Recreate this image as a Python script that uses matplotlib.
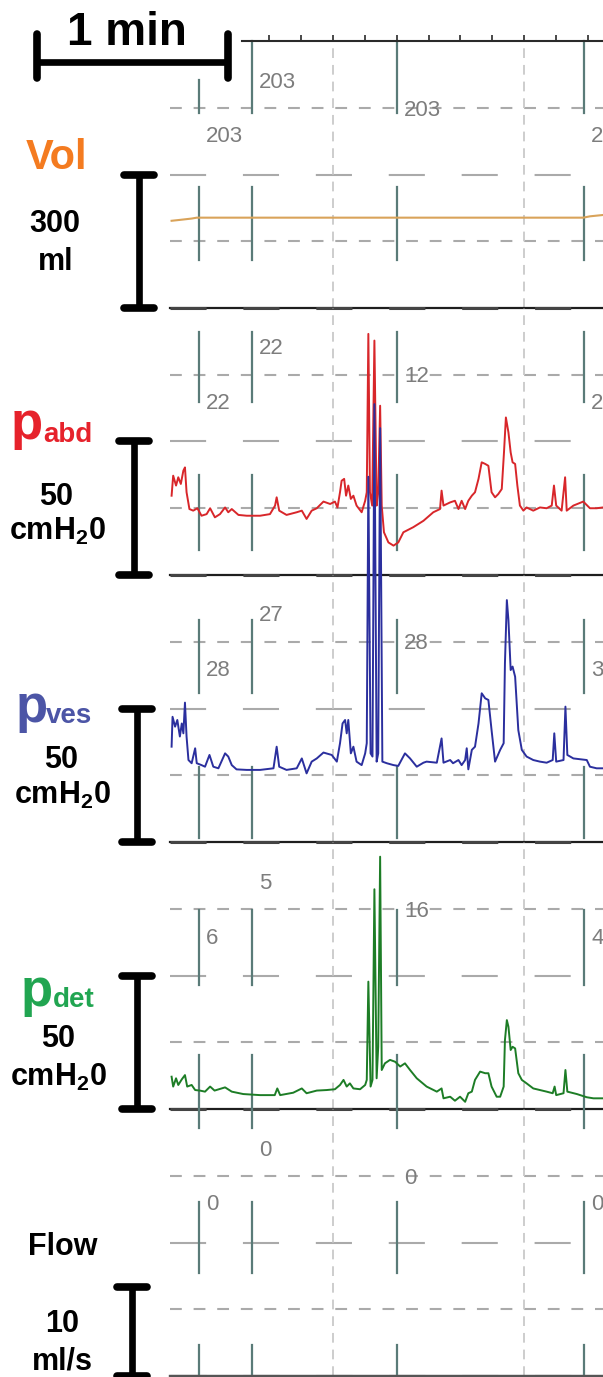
import numpy as np
import matplotlib.pyplot as plt
import matplotlib.transforms as mtransforms

plt.rcParams['font.family'] = ['Liberation Sans', 'DejaVu Sans']
plt.rcParams['lines.scale_dashes'] = False
plt.rcParams['mathtext.fontset'] = 'custom'
plt.rcParams['mathtext.rm'] = 'Liberation Sans:bold'

# ---- data (time in s from left edge of the trace area) ----
vol_t = [0.5, 3.1, 6.8, 8.4, 129.8, 131.9, 136.0]
vol_ml = [196, 198, 201, 203, 203, 206, 209]

pabd_t = [0.5, 1.0, 1.9, 2.6, 3.4, 4.2, 4.7, 5.2, 6.1, 7.3, 8.6, 9.9, 11.5, 12.6, 14.1, 15.7,
          17.3, 18.3, 19.4, 21.5, 24.1, 28.3, 31.4, 33.0, 33.5, 34.3, 36.6, 39.8, 41.4, 42.9,
          44.5, 46.1, 48.2, 50.3, 51.8, 52.6, 53.4, 53.9, 54.7, 55.3, 56.0, 56.8, 57.6, 58.6,
          60.2, 61.3, 61.8, 62.3, 62.8, 63.5, 64.2, 64.9, 65.4, 66.0, 66.5, 67.2, 68.6, 70.2,
          71.7, 73.3, 76.4, 79.6, 82.7, 84.8, 85.3, 85.9, 88.0, 89.5, 90.6, 91.6, 92.7, 93.7,
          94.8, 95.8, 96.9, 97.9, 99.0, 100.0, 101.0, 102.1, 103.1, 104.2, 104.9, 105.5, 106.3,
          107.0, 107.6, 108.4, 109.1, 109.9, 111.0, 112.0, 114.1, 116.2, 118.3, 119.9, 120.6,
          121.3, 123.0, 124.1, 124.6, 126.7, 129.8, 131.9, 134.0, 136.0]
pabd = [29.7, 37.2, 33.5, 36.6, 34.1, 39.1, 40.3, 31.0, 24.7, 24.1, 25.0, 22.2, 22.8, 25.0, 21.6,
        22.8, 25.3, 23.5, 24.7, 22.5, 22.2, 22.2, 22.8, 26.0, 29.1, 24.1, 22.5, 23.5, 24.1, 21.0,
        24.1, 25.0, 27.5, 26.6, 27.5, 25.3, 31.0, 35.3, 36.0, 29.7, 33.5, 28.5, 29.7, 26.0, 23.5,
        27.8, 31.0, 90.3, 31.0, 26.0, 87.8, 26.0, 31.0, 63.4, 26.0, 16.0, 12.2, 11.0, 12.2, 16.0,
        17.9, 20.3, 23.5, 24.7, 31.6, 26.0, 27.2, 27.8, 24.7, 27.8, 24.7, 27.8, 29.7, 31.0, 36.0,
        42.2, 41.6, 40.9, 31.0, 29.1, 30.3, 32.2, 45.9, 59.0, 53.4, 45.9, 42.2, 41.6, 33.5, 26.0,
        24.1, 25.3, 24.1, 25.3, 25.0, 26.0, 33.5, 26.0, 24.1, 36.6, 24.1, 26.0, 27.5, 25.0, 25.0,
        25.3]

pves_t = [0.5, 0.8, 1.6, 2.3, 3.1, 3.7, 4.2, 4.7, 5.2, 5.8, 6.8, 7.9, 8.4, 9.9, 11.0, 12.4, 13.6,
          15.2, 17.3, 18.3, 19.4, 20.9, 24.1, 28.3, 32.5, 33.5, 34.3, 36.6, 39.8, 41.4, 42.9,
          44.5, 46.1, 48.2, 50.8, 52.4, 53.4, 54.2, 55.0, 55.5, 56.0, 56.8, 57.6, 58.6, 60.2,
          61.3, 61.8, 62.3, 63.0, 63.6, 64.2, 64.9, 65.4, 66.0, 66.7, 68.1, 70.2, 71.7, 73.8,
          75.4, 77.5, 79.6, 80.6, 83.8, 85.3, 85.9, 88.0, 88.9, 90.6, 91.6, 92.7, 93.2, 93.7,
          94.8, 95.8, 96.9, 97.9, 99.0, 100.0, 101.0, 102.1, 103.7, 104.8, 105.2, 105.8, 106.3,
          107.0, 107.6, 108.4, 109.4, 110.5, 112.0, 114.1, 116.2, 118.3, 120.2, 120.7, 121.3,
          123.6, 124.2, 124.8, 126.7, 130.9, 131.9, 134.0, 136.0]
pves = [35.7, 46.9, 43.2, 45.7, 39.5, 44.4, 40.7, 52.2, 39.5, 30.7, 29.5, 35.1, 29.5, 28.8, 28.2,
        32.6, 28.2, 27.6, 33.2, 32.0, 28.8, 27.2, 27.0, 27.0, 27.6, 35.7, 28.2, 27.0, 27.6, 31.3,
        25.7, 30.1, 31.3, 33.5, 32.6, 30.1, 37.0, 44.4, 45.7, 40.7, 45.7, 33.2, 35.7, 30.1, 28.8,
        33.2, 37.0, 136.8, 33.2, 32.0, 164.0, 30.1, 33.2, 155.0, 30.1, 29.5, 28.8, 28.5, 33.2,
        31.3, 28.2, 29.7, 30.1, 29.7, 38.8, 29.7, 30.7, 29.5, 30.7, 28.8, 30.7, 35.1, 27.2, 34.5,
        35.7, 44.4, 55.7, 53.8, 53.2, 41.9, 30.1, 34.5, 37.0, 66.9, 90.6, 83.1, 64.4, 65.7, 61.9,
        41.9, 34.5, 32.0, 30.7, 30.1, 29.7, 30.7, 40.7, 30.1, 30.7, 50.7, 32.6, 31.3, 30.7, 28.2,
        27.6, 27.6]

pdet_t = [0.5, 1.0, 1.9, 2.6, 3.7, 4.7, 5.4, 6.8, 7.9, 9.4, 11.0, 12.6, 14.0, 17.3, 19.4, 23.0,
          28.3, 32.9, 33.7, 34.6, 38.7, 41.4, 42.9, 46.1, 49.2, 51.8, 53.4, 54.5, 55.5, 56.5,
          57.6, 59.7, 61.3, 61.8, 62.3, 63.0, 63.6, 64.2, 64.9, 65.4, 66.0, 66.5, 67.5, 69.1,
          70.7, 72.3, 73.8, 75.4, 77.5, 80.6, 83.8, 85.3, 85.9, 88.0, 89.5, 91.1, 92.7, 93.7,
          94.8, 95.8, 97.4, 99.0, 100.0, 101.0, 102.6, 103.7, 104.8, 105.2, 105.8, 106.3, 107.0,
          107.6, 108.4, 109.4, 110.5, 112.0, 114.1, 116.2, 118.3, 120.2, 120.8, 121.3, 123.6,
          124.2, 124.8, 127.8, 130.9, 133.0, 136.0]
pdet = [12.1, 8.4, 11.5, 9.0, 11.1, 12.7, 8.4, 9.0, 7.1, 6.9, 6.5, 8.4, 6.9, 8.1, 6.5, 5.6, 5.2,
        5.2, 7.7, 5.2, 6.1, 7.7, 5.9, 6.9, 7.1, 7.4, 9.0, 10.9, 8.4, 9.6, 7.7, 7.4, 9.0, 10.9,
        47.7, 8.4, 10.9, 82.3, 11.5, 23.3, 94.5, 14.6, 17.1, 18.4, 17.7, 15.9, 17.1, 14.6, 11.5,
        8.4, 6.5, 7.7, 4.0, 4.6, 3.1, 4.6, 2.7, 5.9, 6.5, 10.9, 14.0, 13.4, 13.4, 8.4, 4.6, 4.6,
        8.4, 25.8, 33.3, 30.8, 22.1, 23.3, 22.7, 13.4, 10.9, 9.6, 7.7, 7.1, 6.5, 5.9, 8.4, 5.2,
        5.9, 14.6, 6.5, 5.6, 4.4, 4.0, 4.0]

flow_t = [0.0, 136.0]
flow = [0.0, 0.0]

# event markers and the values printed next to them
# (the last column is cut by the right edge in the original, only its first digit shows)
marker_t = [9.1, 25.8, 71.3, 130.1]
vol_labels = ['203', '203', '203', '2']
pabd_labels = ['22', '22', '12', '2']
pves_labels = ['28', '27', '28', '3']
pdet_labels = ['6', '5', '16', '4']
flow_labels = ['0', '0', '0', '0']

minute_lines = [51.2, 111.2]

# ---- figure ----
W, H = 603, 1377
PH = 267  # panel height in px
fig = plt.figure(figsize=(W / 100, H / 100), dpi=100)

GRID = '#aaaaaa'
MARK = '#5a7b78'


def panel(top, ymax, seg_px, first_seg=None, base='#1e1e1e'):
    ax = fig.add_axes([170 / W, 1 - (top + PH) / H, 433 / W, PH / H])
    ax.set_xlim(0, 136.0)
    ax.set_ylim(0, ymax)
    ax.axis('off')
    ax.patch.set_visible(False)
    # horizontal reference lines
    for f in (0.25, 0.75):
        ax.axhline(f * ymax, color=GRID, lw=1.5, dashes=(8.5, 8.5), zorder=1)
    ax.axhline(0.5 * ymax, color=GRID, lw=1.5, dashes=(26, 26.5), zorder=1)
    # bottom line
    ax.axhline(0, color=base, lw=1.6, clip_on=False, zorder=2)
    ax.axhline(0, color='#444444', lw=2.2, dashes=(26, 26.5), clip_on=False, zorder=2)
    # minute lines
    for m in minute_lines:
        ax.axvline(m, color='#c9c9c9', lw=1.3, dashes=(7, 5), zorder=1)
    # event markers
    tr = ax.get_xaxis_transform()
    for i, t in enumerate(marker_t):
        segs = seg_px if (first_seg is None or i > 0) else first_seg
        for a, b in segs:
            ax.plot([t, t], [1 - a / PH, 1 - b / PH], color=MARK, lw=1.6,
                    transform=tr, clip_on=False, zorder=2)
    return ax


def marker_labels(ax, labels):
    tr = ax.get_xaxis_transform()
    for t, s, off in zip(marker_t, labels, [96, 41, 69, 96]):
        ax.annotate(s, (t, 1 - off / PH), xycoords=tr, xytext=(5, 0),
                    textcoords='offset points', ha='left', va='center',
                    fontsize=16, color='#7d7d7d', annotation_clip=False, zorder=2)


def scale_bar(ax, xpx, val):
    tr = mtransforms.blended_transform_factory(fig.transFigure, ax.transData)
    x = xpx / W
    hw = 15 / W
    ax.plot([x, x], [0, val], transform=tr, color='k', lw=4.8, clip_on=False,
            solid_capstyle='butt')
    for v in (0, val):
        ax.plot([x - hw, x + hw], [v, v], transform=tr, color='k', lw=5.5,
                clip_on=False, solid_capstyle='round')


def ftxt(x, y, s, **kw):
    kw.setdefault('weight', 'bold')
    kw.setdefault('va', 'baseline')
    fig.text(x / W, 1 - y / H, s, **kw)


# Vol panel
ax_vol = panel(41, 600, [(0, 72), (146, 219)], first_seg=[(39, 72), (146, 219)])
ax_vol.plot(vol_t, vol_ml, color='#d9a35a', lw=1.5, zorder=3)
marker_labels(ax_vol, vol_labels)
xt = ax_vol.get_xaxis_transform()
ax_vol.plot([22.6, 136.0], [1, 1], color='#2a2a2a', lw=1.5, transform=xt, clip_on=False)
ax_vol.vlines(np.arange(31.2, 136.0, 10), 1, 1 + 6 / PH, color='#2a2a2a', lw=1.2,
              transform=xt, clip_on=False)
scale_bar(ax_vol, 139, 300)
# 1 min bar
tb = mtransforms.blended_transform_factory(ax_vol.transData, fig.transFigure)
ax_vol.plot([-41.8, 18.2], [1 - 62 / H, 1 - 62 / H], transform=tb, color='k', lw=4.8,
            clip_on=False, solid_capstyle='butt')
for t in (-41.8, 18.2):
    ax_vol.plot([t, t], [1 - 34 / H, 1 - 78 / H], transform=tb, color='k', lw=5.5,
                clip_on=False, solid_capstyle='round')

# p abd
ax_abd = panel(308, 100, [(24, 94), (167, 242)])
ax_abd.plot(pabd_t, pabd, color='#d8262a', lw=1.4, zorder=3)
marker_labels(ax_abd, pabd_labels)
scale_bar(ax_abd, 134, 50)

# p ves (drawn unclipped so the spikes run up into the p abd panel)
ax_ves = panel(575, 100, [(45, 118), (192, 263)])
ax_ves.plot(pves_t, pves, color='#2b2f9e', lw=1.4, zorder=3, clip_on=False)
marker_labels(ax_ves, pves_labels)
scale_bar(ax_ves, 137, 50)

# p det
ax_det = panel(842, 100, [(68, 143), (213, 286)])
ax_det.plot(pdet_t, pdet, color='#1d7d26', lw=1.4, zorder=3)
marker_labels(ax_det, pdet_labels)
scale_bar(ax_det, 137, 50)

# Flow
ax_flow = panel(1109, 30, [(93, 164), (236, 270)], base='#555555')
ax_flow.plot(flow_t, flow, color='#555555', lw=1.6, zorder=3, clip_on=False)
marker_labels(ax_flow, flow_labels)
scale_bar(ax_flow, 132, 10)

# ---- left-hand labels ----
ftxt(127, 45, '1 min', ha='center', fontsize=33)
ftxt(57, 169, 'Vol', ha='center', fontsize=30, color='#f47b20')
ftxt(55, 232, '300', ha='center', fontsize=22)
ftxt(56, 270, 'ml', ha='center', fontsize=22)

ftxt(11, 439, 'p', ha='left', fontsize=38, color='#e6222b')
ftxt(43, 442, 'abd', ha='left', fontsize=20, color='#e6222b')
ftxt(56, 505, '50', ha='center', fontsize=22)
ftxt(57, 540, r'$\mathrm{cmH_20}$', ha='center', fontsize=22)

ftxt(16, 722, 'p', ha='left', fontsize=38, color='#4c55a6')
ftxt(46, 723, 'ves', ha='left', fontsize=20, color='#4c55a6')
ftxt(61, 768, '50', ha='center', fontsize=22)
ftxt(62, 804, r'$\mathrm{cmH_20}$', ha='center', fontsize=22)

ftxt(21, 1006, 'p', ha='left', fontsize=38, color='#21a551')
ftxt(53, 1007, 'det', ha='left', fontsize=20, color='#21a551')
ftxt(58, 1047, '50', ha='center', fontsize=22)
ftxt(58, 1086, r'$\mathrm{cmH_20}$', ha='center', fontsize=22)

ftxt(63, 1255, 'Flow', ha='center', fontsize=22)
ftxt(62, 1332, '10', ha='center', fontsize=22)
ftxt(62, 1369, 'ml/s', ha='center', fontsize=22)

fig.savefig('out.png', dpi=100, facecolor='white')
